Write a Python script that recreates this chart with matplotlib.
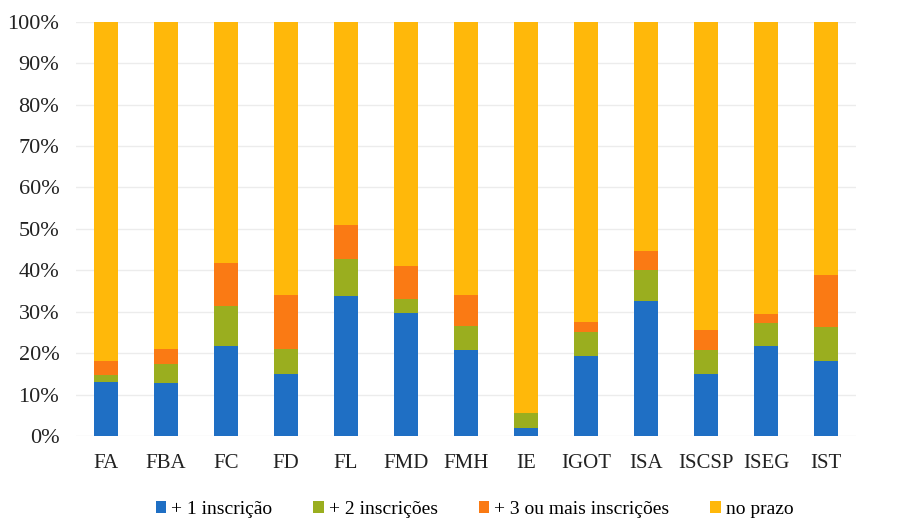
import numpy as np
import matplotlib.pyplot as plt
from matplotlib.ticker import PercentFormatter

# Escolas e percentagens por número de inscrições
escolas = ['FA', 'FBA', 'FC', 'FD', 'FL', 'FMD', 'FMH', 'IE', 'IGOT', 'ISA', 'ISCSP', 'ISEG', 'IST']
insc1 = [13.0, 12.8, 21.7, 15.0, 33.8, 29.7, 20.8, 2.0, 19.3, 32.6, 15.0, 21.7, 18.1]
insc2 = [1.7, 4.6, 9.7, 6.0, 9.0, 3.3, 5.8, 3.6, 5.7, 7.5, 5.8, 5.6, 8.2]
insc3 = [3.3, 3.6, 10.4, 13.0, 8.2, 8.0, 7.4, 0.0, 2.5, 4.6, 4.8, 2.2, 12.6]
no_prazo = [100 - a - b - c for a, b, c in zip(insc1, insc2, insc3)]

series = [('+ 1 inscrição', insc1, '#1f6fc4'),
          ('+ 2 inscrições', insc2, '#9aae1f'),
          ('+ 3 ou mais inscrições', insc3, '#fa7a14'),
          ('no prazo', no_prazo, '#ffb80a')]

plt.rcParams['font.family'] = ['Liberation Serif', 'DejaVu Serif']

fig = plt.figure(figsize=(9.04, 5.19), dpi=100)
ax = fig.add_axes([0.084, 0.160, 0.863, 0.798])

x = np.arange(len(escolas))
base = np.zeros(len(escolas))
for nome, vals, cor in series:
    ax.bar(x, vals, width=0.4, bottom=base, color=cor, label=nome, zorder=2)
    base += np.array(vals)

ax.set_ylim(0, 100)
ax.set_xlim(-0.5, len(escolas) - 0.5)
ax.set_yticks(np.arange(0, 101, 10))
ax.yaxis.set_major_formatter(PercentFormatter(decimals=0))
ax.set_xticks(x)
ax.set_xticklabels(escolas)
ax.grid(axis='y', color='#ececec', linewidth=1, zorder=0)
for s in ax.spines.values():
    s.set_visible(False)
ax.tick_params(length=0, colors='#222222')
ax.tick_params(axis='y', pad=12, labelsize=16)
ax.tick_params(axis='x', pad=13, labelsize=15)

handles, labels = ax.get_legend_handles_labels()
fig.legend(handles, labels, loc='center', bbox_to_anchor=(0.525, 0.018), ncol=4,
           frameon=False, fontsize=14, handlelength=0.55, handleheight=0.55,
           handletextpad=0.25, columnspacing=2.1)

fig.savefig('out.png', dpi=100)
